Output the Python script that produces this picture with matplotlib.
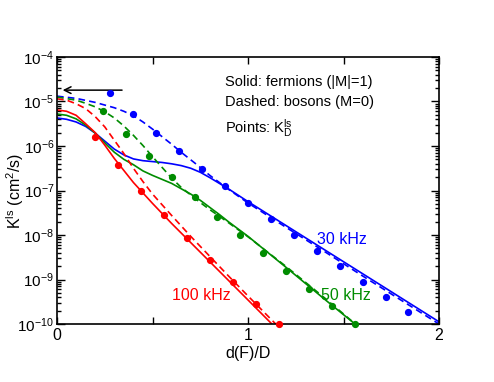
import matplotlib
matplotlib.use('Agg')
import matplotlib.pyplot as plt
import numpy as np
from matplotlib.ticker import LogLocator, FixedLocator, NullFormatter

# ---- data (log10 of K) ----
# Points: K_D^ls
X_PTS_30 = [0.28, 0.40, 0.52, 0.64, 0.76, 0.88, 1.00, 1.12, 1.24, 1.36, 1.48, 1.60, 1.72, 1.84]
LOG_PTS_30 = [-4.80, -5.27, -5.70, -6.11, -6.52, -6.90, -7.27, -7.64, -8.00, -8.35, -8.70, -9.05, -9.39, -9.72]
X_PTS_50 = [0.24, 0.36, 0.48, 0.60, 0.72, 0.84, 0.96, 1.08, 1.20, 1.32, 1.44, 1.56]
LOG_PTS_50 = [-5.21, -5.74, -6.22, -6.70, -7.15, -7.59, -8.01, -8.41, -8.81, -9.21, -9.60, -9.99]
X_PTS_100 = [0.20, 0.32, 0.44, 0.56, 0.68, 0.80, 0.92, 1.04, 1.16]
LOG_PTS_100 = [-5.80, -6.42, -7.00, -7.54, -8.07, -8.57, -9.06, -9.54, -10.00]

# Solid: fermions (|M|=1)
X_SOL_30 = [0.0, 0.05, 0.1, 0.15, 0.2, 0.25, 0.3, 0.35, 0.4, 0.45, 0.5, 0.55, 0.6, 0.65, 0.7, 0.75, 0.8, 0.85, 0.9, 1.0, 1.2, 1.4, 1.6, 1.8, 2.0]
LOG_SOL_30 = [-5.37, -5.40, -5.46, -5.56, -5.71, -5.89, -6.07, -6.20, -6.29, -6.33, -6.35, -6.37, -6.40, -6.44, -6.50, -6.59, -6.71, -6.84, -6.97, -7.25, -7.79, -8.33, -8.87, -9.41, -9.95]
X_SOL_50 = [0.0, 0.05, 0.1, 0.15, 0.2, 0.25, 0.3, 0.35, 0.4, 0.45, 0.5, 0.55, 0.6, 0.65, 0.7, 0.75, 0.8, 0.85, 0.9, 1.0, 1.2, 1.4, 1.56]
LOG_SOL_50 = [-5.28, -5.31, -5.39, -5.53, -5.71, -5.93, -6.14, -6.30, -6.42, -6.56, -6.66, -6.75, -6.84, -6.96, -7.08, -7.22, -7.38, -7.54, -7.71, -8.03, -8.73, -9.44, -10.0]
X_SOL_100 = [0.0, 0.05, 0.1, 0.15, 0.2, 0.25, 0.3, 0.35, 0.4, 0.5, 0.6, 0.7, 0.8, 0.9, 1.0, 1.125]
LOG_SOL_100 = [-5.19, -5.22, -5.31, -5.50, -5.70, -5.98, -6.28, -6.55, -6.82, -7.29, -7.74, -8.17, -8.60, -9.03, -9.46, -10.0]

# Dashed: bosons (M=0)
X_DSH_30 = [0.0, 0.1, 0.2, 0.3, 0.35, 0.4, 0.45, 0.5, 0.55, 0.6, 0.65, 0.7, 0.75, 0.8, 0.85, 0.9, 1.0, 1.2, 1.4, 1.6, 1.8, 2.0]
LOG_DSH_30 = [-4.88, -4.93, -5.02, -5.14, -5.22, -5.32, -5.46, -5.62, -5.79, -5.96, -6.14, -6.31, -6.48, -6.66, -6.82, -6.98, -7.28, -7.83, -8.37, -8.92, -9.46, -10.0]
X_DSH_50 = [0.0, 0.1, 0.15, 0.2, 0.25, 0.3, 0.35, 0.4, 0.45, 0.5, 0.55, 0.6, 0.65, 0.7, 0.75, 0.8, 0.85, 0.9, 1.0, 1.2, 1.4, 1.57]
LOG_DSH_50 = [-4.90, -4.97, -5.04, -5.12, -5.23, -5.37, -5.55, -5.76, -5.99, -6.24, -6.48, -6.72, -6.93, -7.10, -7.27, -7.43, -7.58, -7.73, -8.04, -8.71, -9.41, -10.03]
X_DSH_100 = [0.0, 0.05, 0.1, 0.15, 0.2, 0.25, 0.3, 0.35, 0.4, 0.45, 0.5, 0.6, 0.7, 0.8, 0.9, 1.0, 1.145]
LOG_DSH_100 = [-4.94, -4.97, -5.05, -5.16, -5.34, -5.57, -5.87, -6.17, -6.50, -6.80, -7.08, -7.56, -8.03, -8.48, -8.93, -9.37, -10.0]

BLUE = '#0000ff'
GREEN = '#008c00'
RED = '#ff0000'

plt.rcParams['font.family'] = ['Liberation Sans', 'DejaVu Sans']
plt.rcParams['mathtext.default'] = 'regular'

fig = plt.figure(figsize=(4.94, 3.82), dpi=100)
ax = fig.add_axes([0.1154, 0.1518, 0.7733, 0.699])

series = [
    (X_SOL_30, LOG_SOL_30, X_DSH_30, LOG_DSH_30, X_PTS_30, LOG_PTS_30, BLUE),
    (X_SOL_50, LOG_SOL_50, X_DSH_50, LOG_DSH_50, X_PTS_50, LOG_PTS_50, GREEN),
    (X_SOL_100, LOG_SOL_100, X_DSH_100, LOG_DSH_100, X_PTS_100, LOG_PTS_100, RED),
]
for xs, ls_, xd, ld, xp, lp, c in series:
    ax.plot(xs, 10.0 ** np.array(ls_), '-', color=c, lw=1.2)
    ax.plot(xd, 10.0 ** np.array(ld), '--', color=c, lw=1.2, dashes=(4, 2.5))
    ax.plot(xp, 10.0 ** np.array(lp), 'o', color=c, ms=4.2, clip_on=False, zorder=5)

ax.set_yscale('log')
ax.set_xlim(0, 2)
ax.set_ylim(1e-10, 1e-4)

ax.xaxis.set_major_locator(FixedLocator([0, 1, 2]))
ax.xaxis.set_minor_locator(FixedLocator([0.5, 1.5]))
ax.yaxis.set_major_locator(LogLocator(base=10, numticks=10))
ax.yaxis.set_minor_locator(LogLocator(base=10, subs=np.arange(2, 10), numticks=20))
ax.yaxis.set_minor_formatter(NullFormatter())
ax.tick_params(which='both', direction='in', top=True, right=True, width=1)
ax.tick_params(axis='y', which='major', length=6, labelsize=11, pad=2)
ax.tick_params(axis='y', which='minor', length=3)
ax.tick_params(axis='x', which='both', length=5, labelsize=11.5, pad=3)
for s in ax.spines.values():
    s.set_linewidth(1.2)

ax.set_xlabel('d(F)/D', fontsize=11.5, labelpad=2)
ax.set_ylabel('K$^{ls}$ (cm$^{2}$/s)', fontsize=11.5)
ax.yaxis.set_label_coords(-0.08, 0.5)

ax.annotate('', xy=(0.015, 1.8e-5), xytext=(0.355, 1.8e-5),
            arrowprops=dict(arrowstyle='->', color='black', lw=1.1, mutation_scale=12))

ax.text(0.44, 0.905, 'Solid: fermions (|M|=1)', transform=ax.transAxes, fontsize=10.5, va='center')
ax.text(0.44, 0.83, 'Dashed: bosons (M=0)', transform=ax.transAxes, fontsize=10.5, va='center')
ax.text(0.44, 0.735, 'Points: K$_D^{ls}$', transform=ax.transAxes, fontsize=10.5, va='center')

ax.text(1.36, 10 ** -8.1, '30 kHz', color=BLUE, fontsize=11.5, va='center')
ax.text(1.38, 10 ** -9.35, '50 kHz', color=GREEN, fontsize=11.5, va='center')
ax.text(0.60, 10 ** -9.35, '100 kHz', color=RED, fontsize=11.5, va='center')

fig.savefig('out.png', dpi=100)
